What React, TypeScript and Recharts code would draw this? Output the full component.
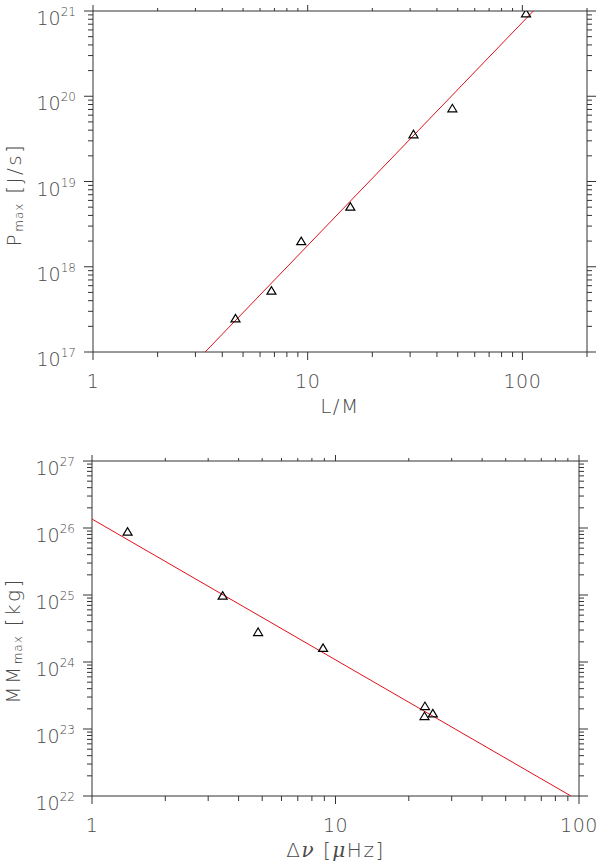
import React from "react";
import { Label, Scatter, ScatterChart, XAxis, YAxis } from "recharts";

// top panel: P_max vs L/M
const lmRatio = [4.61, 6.78, 9.33, 15.8, 31.1, 47.2, 104];
const pMax = [2.48e17, 5.24e17, 2.0e18, 5.06e18, 3.58e19, 7.22e19, 9.4e20];
const lmFit = [3.33, 112.5];
const pFit = [1e17, 1e21];

// bottom panel: MM_max vs delta nu
const deltaNu = [1.4, 3.44, 4.81, 8.89, 23.3, 23.2, 25.1];
const mmMax = [8.8e25, 9.8e24, 2.8e24, 1.62e24, 2.2e23, 1.56e23, 1.71e23];
const nuFit = [1, 92.7];
const mmFit = [1.36e26, 1e22];

const AXIS = "#333";
const TEXT = "#4a4a4a";
const RED = "#e0101a";
const FONT = "'DejaVu Sans', sans-serif";

// 1,2,...,9,10,20,... up to hi
const logTicks = (lo: number, hi: number) => {
  const out: number[] = [];
  for (let e = Math.round(Math.log10(lo)); Math.pow(10, e) <= hi; e++) {
    for (let k = 1; k < 10; k++) {
      const v = k * Math.pow(10, e);
      if (v >= lo && v <= hi * 1.0001) out.push(v);
    }
  }
  return out;
};

const isMajor = (v: number) =>
  Math.abs(Math.log10(v) - Math.round(Math.log10(v))) < 1e-6;

const BottomTick = (props: any) => {
  const { x, y, payload } = props;
  const major = isMajor(payload.value);
  return (
    <g>
      <line x1={x} y1={y} x2={x} y2={y + (major ? 8 : 5)} stroke={AXIS} />
      {major && (
        <text x={x} y={y + 36} textAnchor="middle" fill={TEXT} fontSize={19} fontFamily={FONT} fontWeight={200} letterSpacing={0.5}>
          {Math.round(payload.value)}
        </text>
      )}
    </g>
  );
};

const TopTick = (props: any) => {
  const { x, y, payload } = props;
  const major = isMajor(payload.value);
  return <line x1={x} y1={y} x2={x} y2={y - (major ? 6 : 3)} stroke={AXIS} />;
};

const LeftTick = (props: any) => {
  const { x, y, payload } = props;
  const major = isMajor(payload.value);
  const exp = Math.round(Math.log10(payload.value));
  return (
    <g>
      <line x1={x} y1={y} x2={x - (major ? 9 : 5)} y2={y} stroke={AXIS} />
      {major && (
        <text x={x - 17} y={y + 14} textAnchor="end" fill={TEXT} fontFamily={FONT} fontWeight={200} fontSize={19}>
          <tspan>10</tspan>
          <tspan dy={-9} fontSize={12}>{exp}</tspan>
        </text>
      )}
    </g>
  );
};

const RightTick = (props: any) => {
  const { x, y, payload } = props;
  const major = isMajor(payload.value);
  return <line x1={x} y1={y} x2={x + (major ? 9 : 5)} y2={y} stroke={AXIS} />;
};

const Triangle = (props: any) => {
  const { cx, cy } = props;
  return (
    <path
      d={`M${cx - 4.5},${cy + 3.5} L${cx + 4.5},${cy + 3.5} L${cx},${cy - 4} Z`}
      fill="none"
      stroke="#000"
      strokeWidth={1.2}
    />
  );
};

const NoShape = () => <g />;

const xTitle = (content: React.ReactNode) => (props: any) => {
  const vb = props.viewBox;
  return (
    <text x={vb.x + vb.width / 2} y={vb.y + 61} textAnchor="middle" fill={TEXT} fontFamily={FONT} fontWeight={200} fontSize={20} letterSpacing={1.5}>
      {content}
    </text>
  );
};

const yTitle = (content: React.ReactNode, shift: number) => (props: any) => {
  const vb = props.viewBox;
  const cx = vb.x + vb.width - 79;
  const cy = vb.y + vb.height / 2 + shift;
  return (
    <text
      x={cx}
      y={cy}
      transform={`rotate(-90, ${cx}, ${cy})`}
      textAnchor="middle"
      dominantBaseline="central"
      fill={TEXT}
      fontFamily={FONT}
      fontWeight={200}
      fontSize={20}
      letterSpacing={2.5}
    >
      {content}
    </text>
  );
};

const toPoints = (xs: number[], ys: number[]) => xs.map((x, i) => ({ x, y: ys[i] }));

type PanelProps = {
  top: number;
  height: number;
  margin: { top: number; right: number; bottom: number; left: number };
  xDomain: [number, number];
  yDomain: [number, number];
  points: { x: number; y: number }[];
  fit: { x: number; y: number }[];
  xLabel: React.ReactNode;
  yLabel: React.ReactNode;
  yShift: number;
};

const Panel = ({ top, height, margin, xDomain, yDomain, points, fit, xLabel, yLabel, yShift }: PanelProps) => {
  const xt = logTicks(xDomain[0], xDomain[1]);
  const yt = logTicks(yDomain[0], yDomain[1]);
  const common = { type: "number" as const, scale: "log" as const, allowDataOverflow: true, interval: 0, tickSize: 0, tickMargin: 0, tickLine: false };
  return (
    <div style={{ position: "absolute", left: 0, top, width: 600, height }}>
      <ScatterChart width={600} height={height} margin={margin}>
        <XAxis {...common} xAxisId={0} dataKey="x" domain={xDomain} ticks={xt} height={60} tick={<BottomTick />} axisLine={{ stroke: AXIS }}>
          <Label content={xTitle(xLabel)} />
        </XAxis>
        <XAxis {...common} xAxisId="top" orientation="top" dataKey="x" domain={xDomain} ticks={xt} height={10} tick={<TopTick />} axisLine={{ stroke: AXIS }} />
        <YAxis {...common} yAxisId={0} dataKey="y" domain={yDomain} ticks={yt} width={60} tick={<LeftTick />} axisLine={{ stroke: AXIS }}>
          <Label content={yTitle(yLabel, yShift)} />
        </YAxis>
        <YAxis {...common} yAxisId="right" orientation="right" dataKey="y" domain={yDomain} ticks={yt} width={10} tick={<RightTick />} axisLine={{ stroke: AXIS }} />
        <Scatter data={fit} line={{ stroke: RED, strokeWidth: 1 }} shape={<NoShape />} isAnimationActive={false} />
        <Scatter data={points} shape={<Triangle />} isAnimationActive={false} />
      </ScatterChart>
    </div>
  );
};

export default function App() {
  return (
    <div style={{ position: "absolute", left: 0, top: 0, width: 600, height: 864, background: "#fff" }}>
      <Panel
        top={0}
        height={430}
        margin={{ top: 1, right: 3, bottom: 18, left: 33 }}
        xDomain={[1, 200]}
        yDomain={[1e17, 1e21]}
        points={toPoints(lmRatio, pMax)}
        fit={toPoints(lmFit, pFit)}
        xLabel="L/M"
        yLabel={
          <>
            <tspan>P</tspan>
            <tspan dy={5} fontSize={12} letterSpacing={1}>max</tspan>
            <tspan dy={-5}> [J/s]</tspan>
          </>
        }
        yShift={13}
      />
      <Panel
        top={430}
        height={434}
        margin={{ top: 21, right: 11, bottom: 8, left: 32 }}
        xDomain={[1, 100]}
        yDomain={[1e22, 1e27]}
        points={toPoints(deltaNu, mmMax)}
        fit={toPoints(nuFit, mmFit)}
        xLabel={
          <>
            <tspan>Δ</tspan>
            <tspan fontStyle="italic" fontFamily="'DejaVu Serif', serif">ν</tspan>
            <tspan> [</tspan>
            <tspan fontStyle="italic" fontFamily="'DejaVu Serif', serif">μ</tspan>
            <tspan>Hz]</tspan>
          </>
        }
        yLabel={
          <>
            <tspan>MM</tspan>
            <tspan dy={5} fontSize={12} letterSpacing={1}>max</tspan>
            <tspan dy={-5}> [kg]</tspan>
          </>
        }
        yShift={12}
      />
    </div>
  );
}
